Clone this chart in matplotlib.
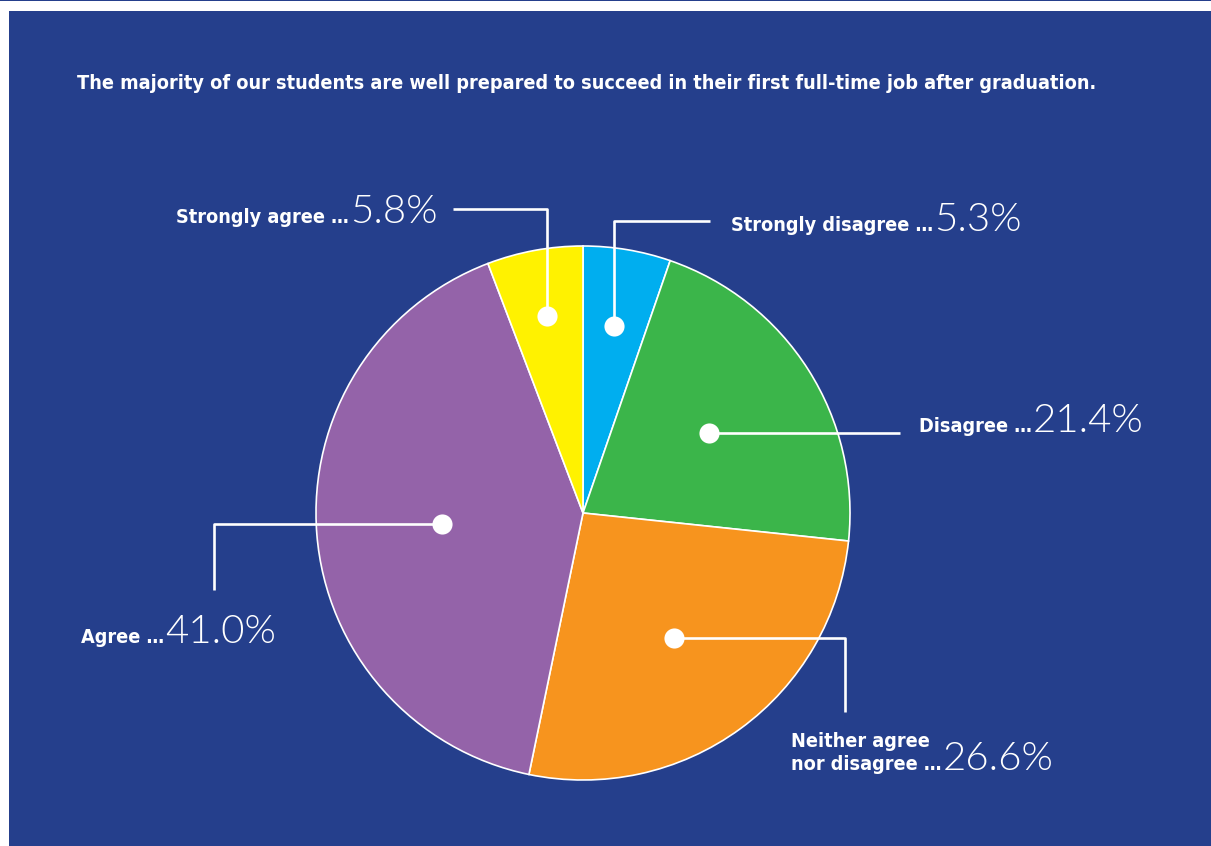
import numpy as np
import matplotlib
matplotlib.use("Agg")
import matplotlib.pyplot as plt
from matplotlib import font_manager as fm
from matplotlib.patches import Rectangle

W, H = 1211, 846

TITLE = ("The majority of our students are well prepared to succeed "
         "in their first full-time job after graduation.")
categories = ["Strongly disagree", "Disagree", "Neither agree\nnor disagree",
              "Agree", "Strongly agree"]
shares = [5.3, 21.4, 26.6, 41.0, 5.8]
colors = ["#00aeef", "#3bb54a", "#f7941e", "#9463a9", "#fff200"]

BG = "#253f8c"
CENTER = (583, 513)   # pixels from top-left
RADIUS = 267
TITLE_WIDTH = 1016    # title is sized to span this many pixels

# where each dot sits (fraction of radius on the slice mid-angle),
# the leader route from the dot, and the label anchor (left, baseline)
dot_r = [0.71, 0.56, 0.58, 0.53, 0.75]
routes = [[("y", 221), ("x", 710)],
          [("x", 900)],
          [("x", 845), ("y", 712)],
          [("x", 214), ("y", 590)],
          [("y", 209), ("x", 453)]]
label_pos = [(731, 231), (919, 432), (791, 770), (81, 643), (176, 223)]


def pick_font(families, bold, condensed=False):
    best = None
    for fam_rank, fam in enumerate(families):
        for f in fm.fontManager.ttflist:
            if f.name != fam or f.style != "normal":
                continue
            w = f.weight if isinstance(f.weight, int) else fm.weight_dict.get(f.weight, 400)
            if bold and w < 600:
                continue
            if not bold and w > 300:
                continue
            cond = f.stretch not in ("normal", 500)
            if condensed != cond and fam not in ("Liberation Sans Narrow",):
                continue
            key = (fam_rank, abs(w - (700 if bold else 300)))
            if best is None or key < best[0]:
                best = (key, f.fname)
    return best[1] if best else None


cond_file = (pick_font(["Roboto Condensed", "Liberation Sans Narrow",
                        "Noto Sans Condensed", "Open Sans Condensed"], True)
             or pick_font(["Noto Sans", "DejaVu Sans", "Open Sans"], True, condensed=True))
bold_fp = (fm.FontProperties(fname=cond_file) if cond_file
           else fm.FontProperties(family="Liberation Sans", weight="bold"))
light_file = pick_font(["Lato", "Roboto", "Open Sans", "Noto Sans", "Inter"], False)
light_fp = (fm.FontProperties(fname=light_file) if light_file
            else fm.FontProperties(family="DejaVu Sans", weight="light"))

fig = plt.figure(figsize=(W / 100, H / 100), dpi=100, facecolor="white")
ax = fig.add_axes([0, 0, 1, 1])
ax.set_axis_off()


def P(x, y):
    return x, H - y


ax.add_patch(Rectangle(P(9, H), W - 9, H - 11, facecolor=BG, edgecolor="none", zorder=0))
ax.add_patch(Rectangle(P(0, 1.3), W, 1.3, facecolor=BG, edgecolor="none", zorder=0))

cx, cy = P(*CENTER)
wedges, _ = ax.pie(shares, colors=colors, startangle=90, counterclock=False,
                   center=(cx, cy), radius=RADIUS,
                   wedgeprops=dict(edgecolor="white", linewidth=1.2))
ax.set_xlim(0, W)
ax.set_ylim(0, H)
ax.set_aspect("equal")

for w, fr, route in zip(wedges, dot_r, routes):
    mid = np.deg2rad((w.theta1 + w.theta2) / 2)
    x0 = cx + fr * RADIUS * np.cos(mid)
    y0 = cy + fr * RADIUS * np.sin(mid)
    xs, ys = [x0], [y0]
    for axis, v in route:
        if axis == "x":
            xs.append(v); ys.append(ys[-1])
        else:
            xs.append(xs[-1]); ys.append(H - v)
    ax.plot(xs, ys, color="white", lw=1.9, solid_capstyle="butt", zorder=3)
    ax.plot(x0, y0, "o", ms=14.5, color="white", mec="none", zorder=4)

renderer = fig.canvas.get_renderer()
title = ax.text(*P(77, 89), TITLE, color="white", fontproperties=bold_fp,
                fontsize=17, ha="left", va="baseline")
size = 17 * TITLE_WIDTH / title.get_window_extent(renderer).width
title.set_fontsize(size)

for cat, val, (lx, ly) in zip(categories, shares, label_pos):
    t = ax.text(*P(lx, ly), cat + " \u2026", color="white", fontproperties=bold_fp,
                fontsize=size, ha="left", va="baseline", linespacing=1.25,
                multialignment="left")
    bb = t.get_window_extent(renderer)
    ax.text(bb.x1 + 1, H - ly, f"{val:.1f}%", color="white", fontproperties=light_fp,
            fontsize=29, ha="left", va="baseline")

fig.savefig("out.png", dpi=100, facecolor="white")
